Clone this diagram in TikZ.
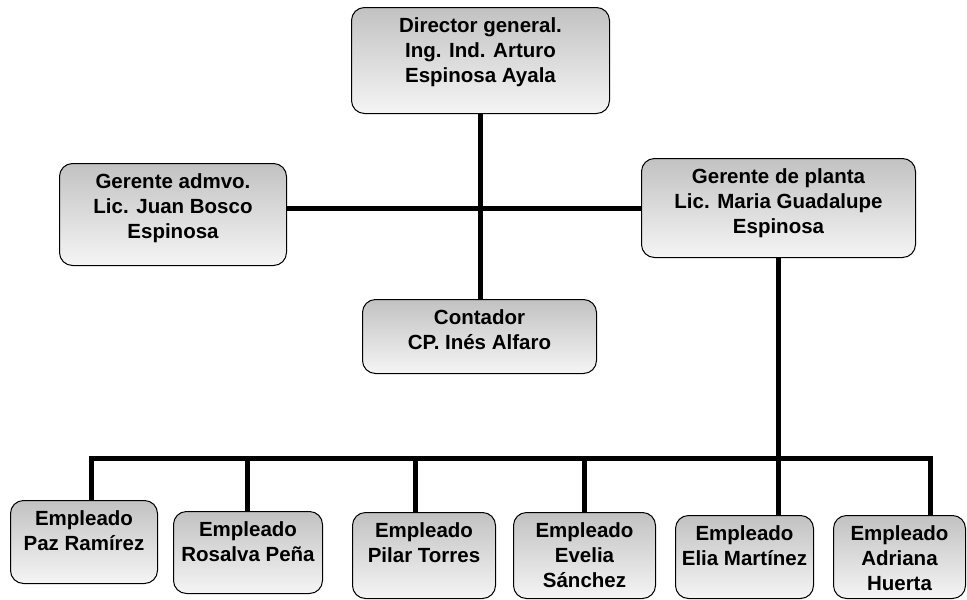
\documentclass[tikz,border=0pt]{standalone}
\usepackage{fontspec}
\setmainfont{Liberation Sans}
\usetikzlibrary{calc}
\definecolor{gristop}{gray}{0.76}
\definecolor{grisbot}{gray}{0.96}
\newcommand{\caja}[3]{\parbox[t][#2pt][t]{#1pt}{\vspace*{10pt}\centering #3}}

\begin{document}
\begin{tikzpicture}[x=1pt, y=-1pt]
  \tikzset{
    puesto/.style={draw, line width=1pt, rounded corners=13pt, top color=gristop,
      bottom color=grisbot, anchor=north west, inner sep=0pt,
      font=\bfseries\fontsize{20.5}{25}\selectfont},
    linea/.style={line width=5pt}
  }
  \useasboundingbox (0,0) rectangle (967,600);

  % direccion
  \node[puesto] (dir) at (351,7) {\caja{258}{106}{Director general.\\Ing. Ind. Arturo\\Espinosa Ayala}};
  \node[puesto] (adm) at (59,163) {\caja{227}{102}{Gerente admvo.\\Lic. Juan Bosco\\Espinosa}};
  \node[puesto] (pla) at (641,158) {\caja{274}{99}{Gerente de planta\\Lic. Maria Guadalupe\\Espinosa}};
  \node[puesto] (con) at (362,299) {\caja{234}{74}{Contador\\CP. Inés Alfaro}};

  % empleados
  \node[puesto] (paz) at (10,500) {\caja{147}{83}{Empleado\\Paz Ramírez}};
  \node[puesto] (ros) at (173,511) {\caja{149}{82}{Empleado\\Rosalva Peña}};
  \node[puesto] (pil) at (352,512) {\caja{143}{86}{Empleado\\Pilar Torres}};
  \node[puesto] (eve) at (513,512) {\caja{142}{86}{Empleado\\Evelia\\Sánchez}};
  \node[puesto] (eli) at (675,515) {\caja{138}{83}{Empleado\\Elia Martínez}};
  \node[puesto] (adr) at (833,515) {\caja{132}{83}{Empleado\\Adriana\\Huerta}};

  % lineas
  \draw[linea] (dir.south) -- (dir.south |- con.north);
  \draw[linea] (adm.east |- pla.west) -- (pla.west);
  \draw[linea] (pla.south) -- (pla.south |- eli.north);

  \coordinate (b1) at (91,458);
  \coordinate (b2) at (247,458);
  \coordinate (b3) at (415,458);
  \coordinate (b4) at (584,458);
  \coordinate (b6) at (930,458);
  \draw[linea] (b1 |- paz.north) -- (b1) -- (b6) -- (b6 |- adr.north);
  \foreach \c/\n in {b2/ros, b3/pil, b4/eve}
    \draw[linea] (\c) -- (\c |- \n.north);
\end{tikzpicture}
\end{document}
